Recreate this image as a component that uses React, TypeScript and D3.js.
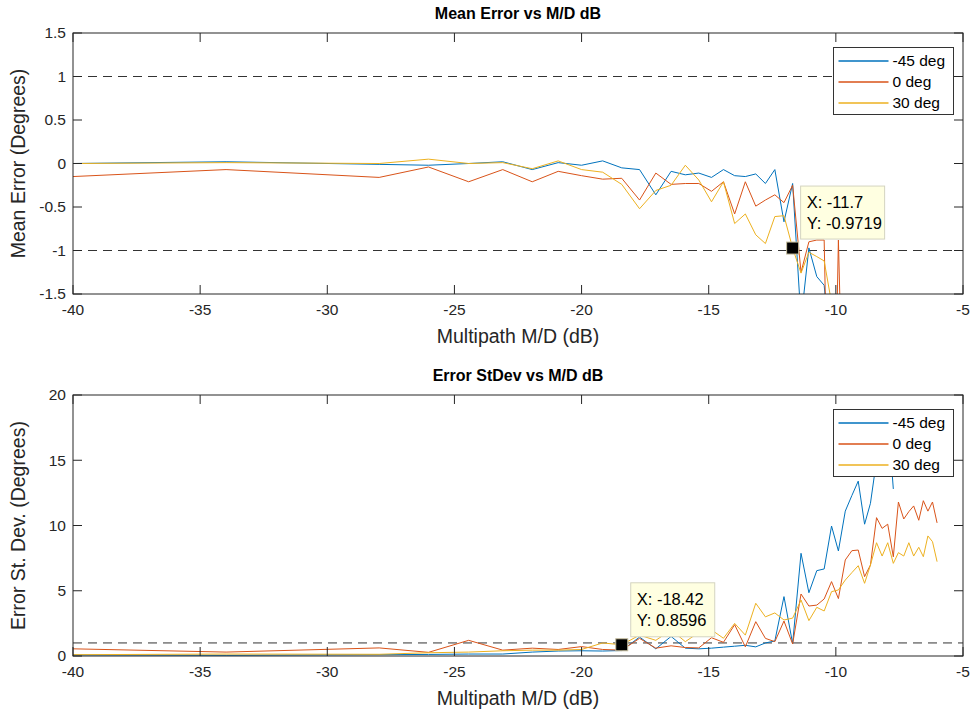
import React, { useEffect } from 'react';
import * as d3 from 'd3';

// Multipath M/D in dB (x values shared by all series)
const mdDb = [-40, -33.98, -27.96, -26.02, -24.44, -23.10, -21.94, -20.92, -20.00, -19.17, -18.42, -17.72, -17.08, -16.48, -15.92, -15.39, -14.89, -14.42, -13.98, -13.56, -13.15, -12.77, -12.40, -12.04, -11.70, -11.37, -11.06, -10.75, -10.46, -10.17, -9.90, -9.63, -9.37, -9.12, -8.87, -8.64, -8.40, -8.18, -7.96, -7.74, -7.54, -7.33, -7.13, -6.94, -6.74, -6.56, -6.38, -6.20, -6.02];

// Mean error (degrees)
const meanM45: (number | null)[] = [0.0, 0.02, -0.01, -0.02, 0.0, 0.02, -0.07, 0.01, -0.02, 0.03, -0.05, -0.07, -0.36, -0.09, -0.13, -0.11, -0.16, -0.07, -0.14, -0.15, -0.12, -0.23, -0.07, -0.67, -0.23, -1.8, -0.97, -1.3, -1.4, -2.3, -2.8, -3.1, -2.6, -3.4, -2.9, -3.6, -3.2, -3.9, -3.5, -4.1, null, null, null, null, null, null, null, null, null];
const mean0: (number | null)[] = [-0.15, -0.07, -0.16, -0.04, -0.21, -0.07, -0.21, -0.09, -0.14, -0.18, -0.17, -0.42, -0.11, -0.24, -0.23, -0.23, -0.32, -0.21, -0.58, -0.21, -0.49, -0.42, -0.36, -0.45, -0.25, -1.25, -0.9, -0.88, -0.88, -5.0, -0.88, -4.0, -3.5, -4.2, -3.8, -4.4, -3.9, -4.6, -4.1, -4.8, -4.3, -5.0, -4.5, -5.2, -4.7, -5.4, -4.9, -5.6, -5.1];
const mean30: (number | null)[] = [0.0, 0.01, 0.0, 0.05, 0.0, 0.01, -0.06, 0.03, -0.07, -0.1, -0.24, -0.52, -0.31, -0.25, -0.02, -0.19, -0.44, -0.21, -0.69, -0.58, -0.82, -0.92, -0.61, -0.6, -0.9719, -1.26, -1.02, -1.07, -1.12, -1.6, -2.4, -2.9, -3.3, -3.0, -3.6, -3.2, -3.9, -3.5, -4.2, -3.8, -4.4, -4.0, -4.6, -4.2, -4.8, -4.4, -5.0, -4.6, -5.2];

// Error standard deviation (degrees)
const stdM45: (number | null)[] = [0.08, 0.05, 0.1, 0.12, 0.15, 0.15, 0.3, 0.38, 0.4, 0.38, 0.42, 1.45, 0.55, 1.5, 0.6, 0.55, 0.6, 0.68, 0.75, 0.82, 0.7, 1.0, 1.15, 4.55, 0.95, 7.87, 4.85, 6.54, 6.67, 9.96, 8.05, 11.1, 12.3, 13.4, 10.1, 11.7, 15.0, 17.5, 18.5, 12.8, null, null, null, null, null, null, null, null, null];
const std0: (number | null)[] = [0.55, 0.3, 0.62, 0.28, 1.2, 0.45, 0.6, 0.5, 0.72, 0.5, 0.45, 1.35, 0.6, 0.78, 0.65, 0.62, 1.4, 1.05, 2.4, 0.7, 2.63, 1.35, 1.1, 2.68, 0.92, 4.75, 3.83, 3.9, 4.37, 5.7, 4.4, 7.36, 8.07, 8.12, 6.08, 6.97, 10.6, 9.78, 10.1, 7.6, 11.8, 10.5, 11.06, 11.5, 10.4, 11.9, 11.1, 11.8, 10.2];
const std30: (number | null)[] = [0.1, 0.15, 0.13, 0.25, 0.3, 0.4, 0.45, 0.45, 0.5, 1.0, 0.8596, 1.6, 1.2, 2.0, 1.1, 1.8, 2.0, 1.36, 2.5, 1.6, 4.04, 3.0, 3.3, 2.76, 2.9, 4.29, 2.71, 3.73, 3.45, 4.93, 5.06, 5.82, 6.39, 6.92, 5.57, 6.97, 8.68, 7.66, 8.68, 7.1, 7.92, 7.66, 8.68, 7.66, 8.33, 7.61, 9.2, 8.76, 7.23];

const seriesNames = ['-45 deg', '0 deg', '30 deg'];
const seriesColors = ['#0072BD', '#D95319', '#EDB120'];

const xTicks = [-40, -35, -30, -25, -20, -15, -10, -5];
const meanYTicks = [-1.5, -1, -0.5, 0, 0.5, 1, 1.5];
const stdYTicks = [0, 5, 10, 15, 20];
const meanRefLines = [1, -1];
const stdRefLines = [1];

const meanTip = { x: -11.7, y: -0.9719, label: ['X: -11.7', 'Y: -0.9719'] };
const stdTip = { x: -18.42, y: 0.8596, label: ['X: -18.42', 'Y: 0.8596'] };

const FONT = '"Liberation Sans", Arial, Helvetica, sans-serif';
const AX = '#262626';

type PanelProps = {
  id: string;
  top: number;
  bottom: number;
  yDomain: [number, number];
  yTicks: number[];
  series: (number | null)[][];
  title: string;
  yLabel: string;
  refLines: number[];
  tip: { x: number; y: number; label: string[] };
  tipBox: { dx: number; dy: number; w: number; h: number };
  legendY: number;
};

const LEFT = 73;
const RIGHT = 963;

function Panel(p: PanelProps) {
  const x = d3.scaleLinear().domain([-40, -5]).range([LEFT, RIGHT]);
  const y = d3.scaleLinear().domain(p.yDomain).range([p.bottom, p.top]);
  const line = d3
    .line<[number, number | null]>()
    .defined((d) => d[1] !== null)
    .x((d) => x(d[0]))
    .y((d) => y(d[1] as number));
  const tickLen = 9;
  const tx = x(p.tip.x);
  const ty = y(p.tip.y);
  const bx = tx + p.tipBox.dx;
  const by = ty + p.tipBox.dy;
  const midX = (LEFT + RIGHT) / 2;
  const midY = (p.top + p.bottom) / 2;
  return (
    <g>
      <defs>
        <clipPath id={`clip-${p.id}`}>
          <rect x={LEFT} y={p.top} width={RIGHT - LEFT} height={p.bottom - p.top} />
        </clipPath>
      </defs>
      <rect x={LEFT} y={p.top} width={RIGHT - LEFT} height={p.bottom - p.top} fill="#fff" />
      <g clipPath={`url(#clip-${p.id})`}>
        {p.refLines.map((r) => (
          <line key={r} x1={LEFT} x2={RIGHT} y1={y(r)} y2={y(r)} stroke="#333" strokeWidth={1} strokeDasharray="9,6" />
        ))}
        {p.series.map((s, i) => (
          <path
            key={i}
            d={line(mdDb.map((v, j) => [v, s[j]] as [number, number | null])) || ''}
            fill="none"
            stroke={seriesColors[i]}
            strokeWidth={1}
            strokeLinejoin="round"
          />
        ))}
      </g>
      {/* axes box */}
      <rect x={LEFT} y={p.top} width={RIGHT - LEFT} height={p.bottom - p.top} fill="none" stroke={AX} strokeWidth={1} />
      {xTicks.map((t) => (
        <g key={`x${t}`}>
          <line x1={x(t)} x2={x(t)} y1={p.bottom} y2={p.bottom - tickLen} stroke={AX} />
          <line x1={x(t)} x2={x(t)} y1={p.top} y2={p.top + tickLen} stroke={AX} />
          <text x={x(t)} y={p.bottom + 21} textAnchor="middle" fontSize={15.5} fill={AX} fontFamily={FONT}>
            {String(t)}
          </text>
        </g>
      ))}
      {p.yTicks.map((t) => (
        <g key={`y${t}`}>
          <line x1={LEFT} x2={LEFT + tickLen} y1={y(t)} y2={y(t)} stroke={AX} />
          <line x1={RIGHT} x2={RIGHT - tickLen} y1={y(t)} y2={y(t)} stroke={AX} />
          <text x={LEFT - 7} y={y(t)} dy="0.35em" textAnchor="end" fontSize={15.5} fill={AX} fontFamily={FONT}>
            {String(t)}
          </text>
        </g>
      ))}
      <text x={midX} y={p.top - 14} textAnchor="middle" fontSize={16} fontWeight="bold" fill="#000" fontFamily={FONT}>
        {p.title}
      </text>
      <text x={midX} y={p.bottom + 49} textAnchor="middle" fontSize={19.5} fill={AX} fontFamily={FONT}>
        Multipath M/D (dB)
      </text>
      <text
        transform={`translate(25,${midY}) rotate(-90)`}
        textAnchor="middle"
        fontSize={19.5}
        fill={AX}
        fontFamily={FONT}
      >
        {p.yLabel}
      </text>
      {/* legend */}
      <g transform={`translate(833.5,${p.legendY + 0.5})`}>
        <rect x={0} y={0} width={120} height={67} fill="#fff" stroke="#333" strokeWidth={1} />
        {seriesNames.map((n, i) => (
          <g key={n} transform={`translate(0,${13.5 + i * 21})`}>
            <line x1={5} x2={55} y1={0} y2={0} stroke={seriesColors[i]} strokeWidth={1.5} />
            <text x={59} y={0} dy="0.35em" fontSize={15.5} fill="#000" fontFamily={FONT}>
              {n}
            </text>
          </g>
        ))}
      </g>
      {/* data tip */}
      <rect x={tx - 6} y={ty - 6} width={12} height={12} fill="#000" stroke="#c8c0a0" strokeWidth={1} />
      <rect x={bx} y={by} width={p.tipBox.w} height={p.tipBox.h} fill="#ffffe1" stroke="#d4d4c0" strokeWidth={1} />
      {p.tip.label.map((l, i) => (
        <text key={l} x={bx + 6} y={by + 22 + i * 21} fontSize={16.5} fill="#000" fontFamily={FONT}>
          {l}
        </text>
      ))}
    </g>
  );
}

export default function App() {
  useEffect(() => {
    document.body.style.margin = '0';
  }, []);
  return (
    <svg width={973} height={710} style={{ display: 'block', background: '#fff' }} fontFamily={FONT}>
      <rect x={0} y={0} width={973} height={710} fill="#fff" />
      <Panel
        id="mean"
        top={33}
        bottom={294}
        yDomain={[-1.5, 1.5]}
        yTicks={meanYTicks}
        series={[meanM45, mean0, mean30]}
        title="Mean Error vs M/D dB"
        yLabel="Mean Error (Degrees)"
        refLines={meanRefLines}
        tip={meanTip}
        tipBox={{ dx: 8, dy: -62, w: 84, h: 53 }}
        legendY={47}
      />
      <Panel
        id="std"
        top={395}
        bottom={656}
        yDomain={[0, 20]}
        yTicks={stdYTicks}
        series={[stdM45, std0, std30]}
        title="Error StDev vs M/D dB"
        yLabel="Error St. Dev. (Degrees)"
        refLines={stdRefLines}
        tip={stdTip}
        tipBox={{ dx: 9, dy: -62, w: 84, h: 54 }}
        legendY={409}
      />
    </svg>
  );
}
